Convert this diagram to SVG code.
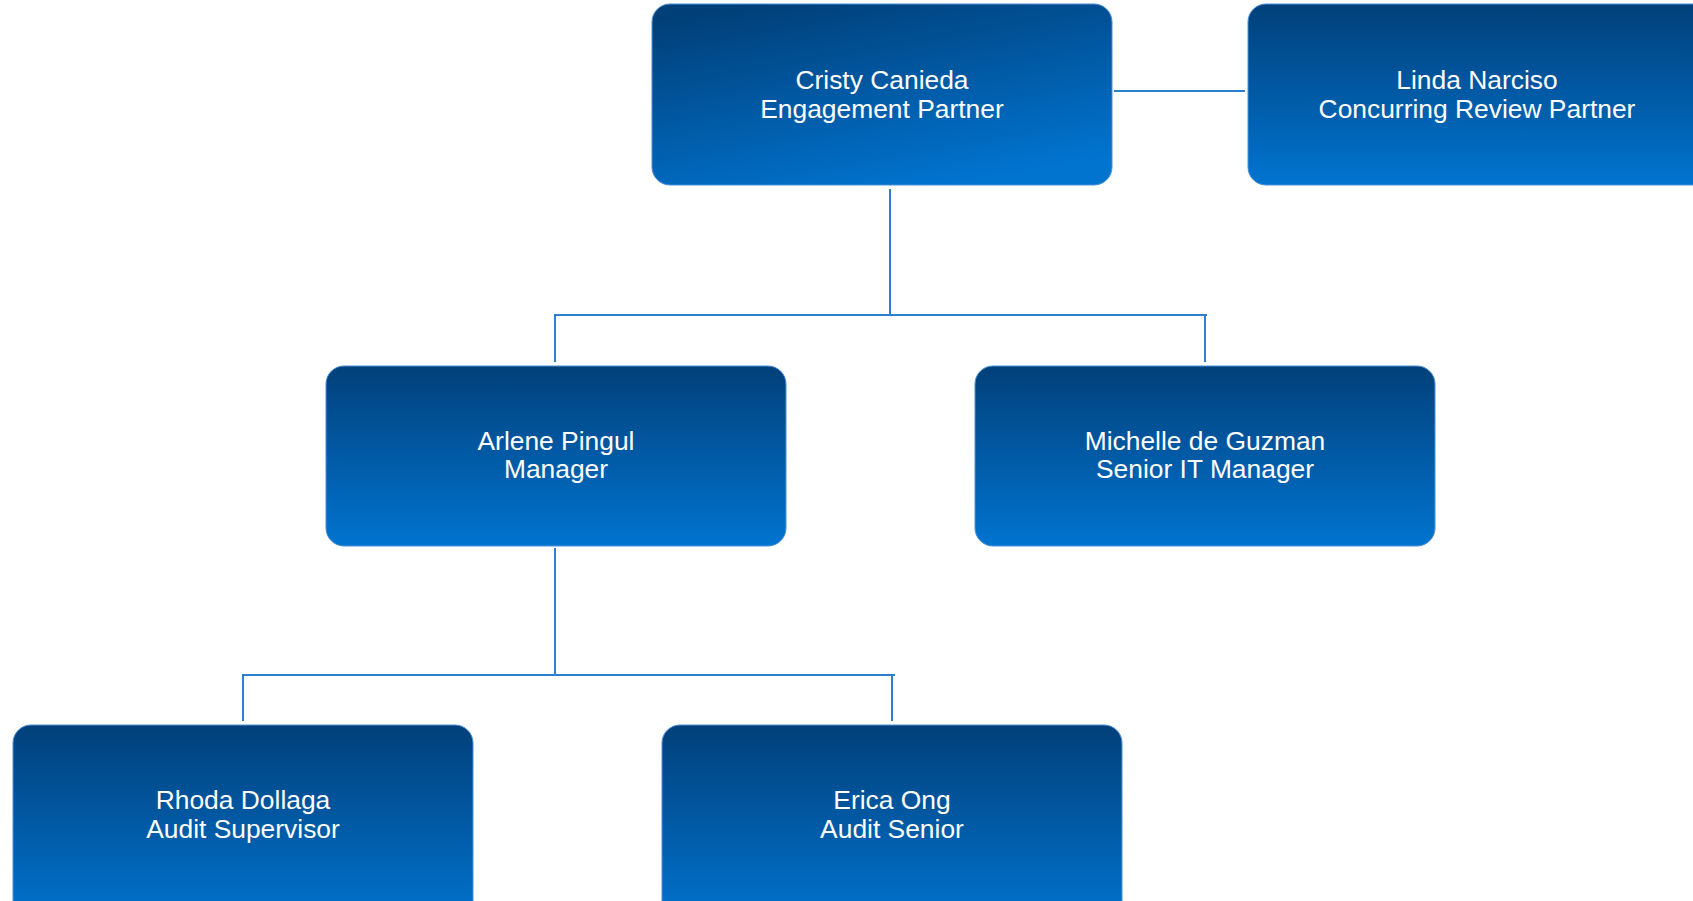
<svg xmlns="http://www.w3.org/2000/svg" width="1693" height="901" viewBox="0 0 1693 901">
<defs>
<linearGradient id="gv" x1="0" y1="0" x2="0" y2="1">
<stop offset="0" stop-color="#01407a"/>
<stop offset="1" stop-color="#0174d0"/>
</linearGradient>
<linearGradient id="gd" x1="0.2" y1="0" x2="0.65" y2="1">
<stop offset="0" stop-color="#013f78"/>
<stop offset="1" stop-color="#0174d0"/>
</linearGradient>
<style>
.box{fill:url(#gv);stroke:#4a90d8;stroke-width:1}
.lbl{font-family:"Liberation Sans",Arial,sans-serif;font-size:26.4px;fill:#ffffff;text-anchor:middle}
.con{stroke:#2f7fd0;stroke-width:2;fill:none}
</style>
</defs>
<rect width="1693" height="901" fill="#ffffff"/>
<g id="connectors">
<line class="con" x1="1114" y1="91" x2="1245" y2="91"/>
<polyline class="con" points="890,189 890,315"/>
<polyline class="con" points="555,362 555,315 1207,315"/>
<line class="con" x1="1205" y1="315" x2="1205" y2="362"/>
<polyline class="con" points="555,548 555,675"/>
<polyline class="con" points="243,721 243,675 895,675"/>
<line class="con" x1="892" y1="675" x2="892" y2="721"/>
</g>
<g id="node-cristy">
<rect class="box" x="652" y="4" width="460" height="181" rx="18" style="fill:url(#gd)"/>
<text class="lbl" x="882" y="89">Cristy Canieda</text>
<text class="lbl" x="882" y="118">Engagement Partner</text>
</g>
<g id="node-linda">
<rect class="box" x="1248" y="4" width="470" height="181" rx="18"/>
<text class="lbl" x="1477" y="89">Linda Narciso</text>
<text class="lbl" x="1477" y="118">Concurring Review Partner</text>
</g>
<g id="node-arlene">
<rect class="box" x="326" y="366" width="460" height="180" rx="18"/>
<text class="lbl" x="556" y="450">Arlene Pingul</text>
<text class="lbl" x="556" y="478">Manager</text>
</g>
<g id="node-michelle">
<rect class="box" x="975" y="366" width="460" height="180" rx="18"/>
<text class="lbl" x="1205" y="450">Michelle de Guzman</text>
<text class="lbl" x="1205" y="478">Senior IT Manager</text>
</g>
<g id="node-rhoda">
<rect class="box" x="13" y="725" width="460" height="200" rx="18"/>
<text class="lbl" x="243" y="809">Rhoda Dollaga</text>
<text class="lbl" x="243" y="838">Audit Supervisor</text>
</g>
<g id="node-erica">
<rect class="box" x="662" y="725" width="460" height="200" rx="18"/>
<text class="lbl" x="892" y="809">Erica Ong</text>
<text class="lbl" x="892" y="838">Audit Senior</text>
</g>
</svg>
